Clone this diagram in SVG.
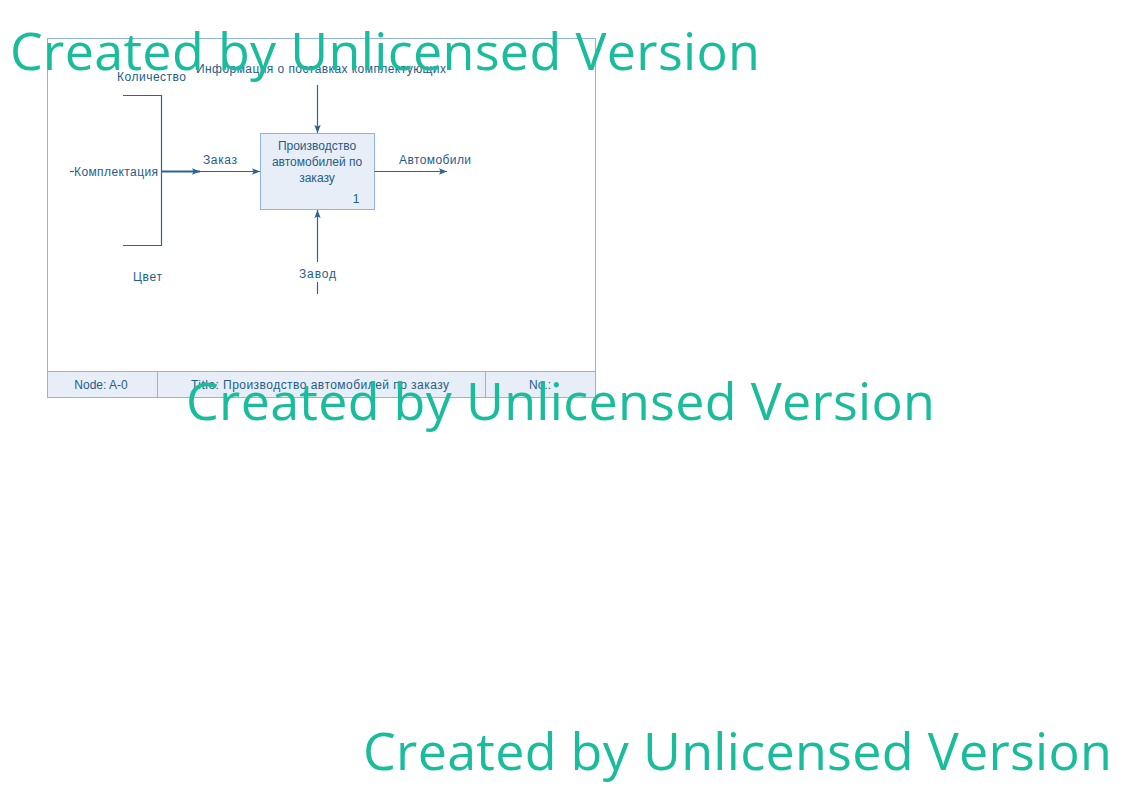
<svg xmlns="http://www.w3.org/2000/svg" width="1123" height="794" viewBox="0 0 1123 794">
<style>
.t{font-family:"Liberation Sans",Arial,sans-serif;font-size:12px;fill:#1f5c8b}
.ln{stroke:#2a6496;stroke-width:1.2;fill:none}
.wm{font-family:"Open Sans","Noto Sans",sans-serif;font-size:52px;fill:#1abc9c}
</style>
<defs>
<marker id="ah" viewBox="0 0 10 10" refX="10" refY="5" markerWidth="8" markerHeight="8" markerUnits="userSpaceOnUse" orient="auto">
<path d="M0,1 L10,5 L0,9 L2,5 Z" fill="#2a6496"/>
</marker>
</defs>
<rect width="1123" height="794" fill="#fff"/>
<g id="frame">
<rect x="47.5" y="38.5" width="548" height="359" fill="#fff" stroke="#8fb4e3" stroke-width="1"/>
<rect x="47.5" y="371.5" width="548" height="26" fill="#e8eef8" stroke="#8fb4e3" stroke-width="1"/>
<line x1="157.5" y1="371.5" x2="157.5" y2="397.5" stroke="#8fb4e3"/>
<line x1="485.5" y1="371.5" x2="485.5" y2="397.5" stroke="#8fb4e3"/>
<text class="t" x="101" y="389" text-anchor="middle">Node: A-0</text>
<text class="t" x="191" y="389" textLength="258">Title: Производство автомобилей по заказу</text>
<text class="t" x="540" y="389" text-anchor="middle">No.:</text>
</g>
<g id="node1">
<rect x="260.5" y="133.5" width="114" height="76" fill="#e8eef8" stroke="#8fb4e3" stroke-width="1"/>
<text class="t" x="317" y="150" text-anchor="middle">Производство</text>
<text class="t" x="317" y="166" text-anchor="middle">автомобилей по</text>
<text class="t" x="317" y="182" text-anchor="middle">заказу</text>
<text class="t" x="356" y="203" text-anchor="middle">1</text>
</g>
<g id="connectors">
<path class="ln" d="M123,95.5 H161.5 V245.5 H123"/>
<line x1="70" y1="171.5" x2="74" y2="171.5" class="ln"/>
<line x1="161" y1="171.5" x2="200" y2="171.5" stroke="#2a6496" stroke-width="2.2" marker-end="url(#ah)"/>
<line x1="200" y1="171.5" x2="260" y2="171.5" class="ln" marker-end="url(#ah)"/>
<line x1="317.5" y1="85" x2="317.5" y2="133" class="ln" marker-end="url(#ah)"/>
<line x1="374.5" y1="171.5" x2="447" y2="171.5" class="ln" marker-end="url(#ah)"/>
<line x1="317.5" y1="262" x2="317.5" y2="210" class="ln" marker-end="url(#ah)"/>
<line x1="317.5" y1="282" x2="317.5" y2="294" class="ln"/>
</g>
<g id="labels">
<text class="t" x="117" y="81" textLength="69">Количество</text>
<text class="t" x="196" y="73" textLength="250">Информация о поставках комплектующих</text>
<text class="t" x="74" y="176" textLength="84">Комплектация</text>
<text class="t" x="203" y="164" textLength="34">Заказ</text>
<text class="t" x="399" y="164" textLength="72">Автомобили</text>
<text class="t" x="133" y="281" textLength="29">Цвет</text>
<text class="t" x="299" y="278" textLength="37">Завод</text>
</g>
<g id="watermark">
<text class="wm" x="10" y="70" textLength="750">Created by Unlicensed Version</text>
<text class="wm" x="186" y="420" textLength="749">Created by Unlicensed Version</text>
<text class="wm" x="363" y="770" textLength="749">Created by Unlicensed Version</text>
</g>
</svg>
